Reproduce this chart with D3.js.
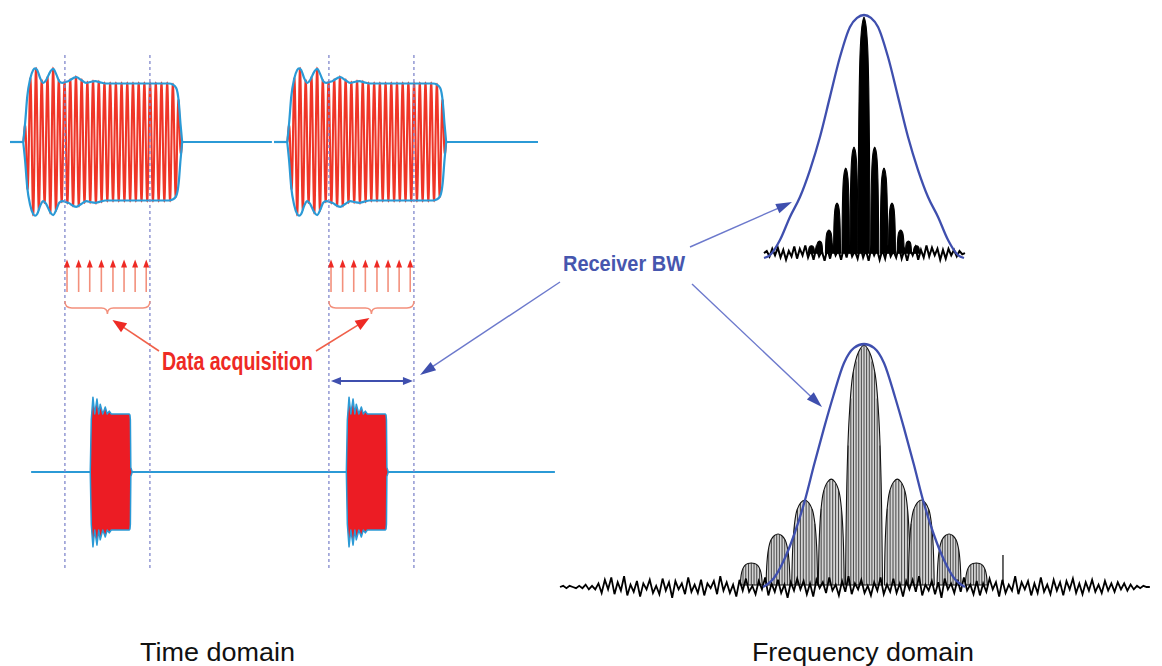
<!DOCTYPE html>
<html><head><meta charset="utf-8">
<script src="https://cdn.jsdelivr.net/npm/d3@7"></script>
<style>html,body{margin:0;padding:0;background:#fff;} svg{display:block}</style>
</head><body>
<script>
// ===================== DATA (arbitrary units) =====================
// Time domain: one unit = 1/50 of the pulse repetition period
const pulseStarts = [2.5, 52.5];                 // long RF pulses (top trace)
const burstStarts = [15.2, 63.7];                // short pulses (bottom trace)
const gateEdges   = [[10.4, 26.5], [60.4, 76.5]];// data acquisition windows
const topBaseline = [[0, 49.6], [50.0, 100]];
const botBaseline = [[4, 103.2]];
const carrierPeriod = 1.08;
// envelope of the long pulse (time since pulse start, relative amplitude)
const pulseEnvT = [0,0.38,0.76,1.33,1.89,2.27,2.65,3.22,3.79,4.36,5.11,5.68,6.25,6.82,7.39,8.52,10.04,10.98,11.93,12.88,13.64,14.58,15.53,27.6,28.4,29.0,29.45,29.8,30.11];
const pulseEnvA = [0,0.34,0.77,1.08,1.23,1.26,1.23,1.09,1.01,1.06,1.2,1.25,1.16,1.04,1.01,1.04,1.11,1.06,1.01,1.03,1.04,1.02,1.0,1.0,0.98,0.92,0.7,0.3,0];
// envelope of the short pulse
const burstEnvT = [0,0.19,0.51,0.85,1.27,1.61,1.89,2.37,2.84,3.22,3.6,3.98,7.4,7.52,7.6,7.64,7.68,7.95];
const burstEnvA = [0,0.9,1.29,1.0,1.26,1.0,1.17,1.0,1.12,1.0,1.05,1.0,1.0,0.98,0.9,0.5,0.08,0];
// sample instants (red arrows)
const samples1 = [10.8,13.0,15.1,17.3,19.5,21.6,23.7,25.8];
const samples2 = [60.8,63.0,65.1,67.3,69.5,71.6,73.7,75.8];

// Frequency domain: one unit = receiver half bandwidth
const topLobeF = [-0.52,-0.44,-0.347,-0.267,-0.181,-0.099,0,0.106,0.198,0.277,0.363,0.44,0.52];
const topLobeM = [0.05,0.07,0.115,0.226,0.370,0.457,0.992,0.457,0.370,0.226,0.115,0.07,0.05];
const topLobeW = [0.06,0.06,0.069,0.069,0.074,0.079,0.118,0.079,0.074,0.069,0.069,0.06,0.06];
const botLobeF = [-1.116,-0.851,-0.587,-0.324,0,0.330,0.567,0.842,1.112];
const botLobeM = [0.099,0.218,0.358,0.444,0.996,0.444,0.358,0.218,0.099];
const botLobeW = [0.218,0.238,0.257,0.257,0.366,0.257,0.257,0.238,0.218];
const lobeShapeU = [-0.5,-0.46,-0.4,-0.3,-0.15,0,0.15,0.3,0.4,0.46,0.5];
const lobeShapeV = [0,0.45,0.7,0.88,0.97,1,0.97,0.88,0.7,0.45,0];
// receiver filter (half profile, mirrored)
const rxTopF = [0,0.069,0.139,0.238,0.337,0.436,0.535,0.634,0.733,0.832,0.931,0.99];
const rxTopM = [1.0,0.988,0.951,0.827,0.663,0.498,0.362,0.251,0.169,0.074,0.012,0];
const rxBotF = [0,0.099,0.198,0.307,0.396,0.495,0.584,0.693,0.792,0.891,1.0];
const rxBotM = [1.0,0.984,0.922,0.782,0.654,0.502,0.358,0.214,0.111,0.037,0];
// noise floor
const topFloor = 0.02, botFloor = 0.0, botLobeFloor = 0.008;
const noiseTopSpan = [-0.99, 1.0];
const noiseTop = [0,2,-3,4,-2,5,-4,3,-6,2,-3,6,-5,4,-2,7,-4,3,-6,5,-3,2,-7,4,-5,6,-2,3,-6,5,-4,7,-3,2,-5,6,-4,3,-7,5,-2,4,-6,3,-5,7,-3,2,-4,6,-5,3,-7,4,-2,5,-6,3,-4,7,-3,5,-2,4,-6,3,-5,4,-2,3,-3,2,-1,0];
const noiseBotSpan = [-3.01, 2.83];
const noiseBottom = [0,1,-1,1,0,-1,1,-1,2,-2,1,-2,
3,-5,6,-2,8,-6,4,-3,9,-7,2,-4,5,-8,3,-2,6,-5,1,-6,7,-3,4,-9,5,-2,3,-6,8,-4,2,-5,6,-7,3,-1,5,-6,9,-3,4,-5,2,-8,6,-3,7,-4,1,-6,5,-2,8,-7,3,-4,6,-5,2,-9,4,-3,7,-2,5,-6,3,-8,6,-1,4,-5,8,-3,2,-7,5,-4,9,-6,3,-2,6,-5,1,-7,4,-3,8,-6,2,-4,7,-5,3,-8,5,-2,6,-4,9,-7,2,-3,5,-6,4,-9,7,-2,3,-5,6,-4,8,-3,2,-6,5,-7,3,-4,7,-2,4,-8,6,-5,2,-3,9,-6,4,-2,5,-7,3,-5,8,-4,2,-6,6,-3,4,-7,5,-2,7,-5,3,-6,4,-3,6,-4,2,-5,5,-3,3,-4,
4,-2,3,-3,2,-2,1,-1,1,0,0];
const spursF = [1.376];
const spursM = [0.132];
// texts
const labelTexts = ["Time domain", "Frequency domain"];
const annotTexts = ["Data acquisition", "Receiver BW"];

// ===================== SCALES =====================
const W = 1162, H = 666;
const xTime = d3.scaleLinear().domain([0,100]).range([10,538]);
const yPulse = d3.scaleLinear().domain([-1,1]).range([200.5,83.5]);
const yBurst = d3.scaleLinear().domain([-1,1]).range([530,414]);
const xFreq = d3.scaleLinear().domain([-1,1]).range([763,965]);
const yMagTop = d3.scaleLinear().domain([0,1]).range([258,15]);
const yMagBot = d3.scaleLinear().domain([0,1]).range([587,344]);

const C = {red:"#ee2a24", stripe:"#ef3527", blueEnv:"#2b9ad6", gate:"#8088cc",
  rx:"#3f4fae", rxLine:"#6c79cc", salmon:"#f3907c", black:"#111"};

const svg = d3.select("body").append("svg").attr("width",W).attr("height",H);
svg.append("rect").attr("width",W).attr("height",H).attr("fill","#fff");

function arrowHead(g, x1,y1,x2,y2, hl, hw, fill){
  const L=Math.hypot(x2-x1,y2-y1), ux=(x2-x1)/L, uy=(y2-y1)/L;
  const bx=x2-ux*hl, by=y2-uy*hl;
  g.append("polygon").attr("points",
    `${x2},${y2} ${bx-uy*hw/2},${by+ux*hw/2} ${bx+uy*hw/2},${by-ux*hw/2}`).attr("fill",fill);
}
function arrow(g, x1,y1,x2,y2, o){
  const L=Math.hypot(x2-x1,y2-y1), ux=(x2-x1)/L, uy=(y2-y1)/L;
  g.append("line").attr("x1",x1).attr("y1",y1).attr("x2",x2-ux*o.hl*0.8).attr("y2",y2-uy*o.hl*0.8)
    .attr("stroke",o.line).attr("stroke-width",o.lw);
  arrowHead(g,x1,y1,x2,y2,o.hl,o.hw,o.head);
}

// ===================== TIME DOMAIN: long pulses =====================
const gT = svg.append("g");
const envScale = d3.scaleLinear().domain(pulseEnvT).range(pulseEnvA).clamp(true);
const pulseLen = pulseEnvT[pulseEnvT.length-1];
pulseStarts.forEach(s=>{
  const pts=[];
  for(let t=0;t<=pulseLen;t+=0.01){
    pts.push([xTime(s+t), yPulse(envScale(t)*Math.sin(2*Math.PI*t/carrierPeriod))]);
  }
  gT.append("path").attr("d",d3.line()(pts)).attr("fill","none")
    .attr("stroke",C.stripe).attr("stroke-width",2.1);
});
// baseline only outside the pulses
topBaseline.forEach(([a,b])=>{
  let segs=[[a,b]];
  pulseStarts.forEach(s=>{
    const e=s+pulseLen;
    segs = segs.flatMap(([p,q])=>{
      if(e<=p||s>=q) return [[p,q]];
      const out=[]; if(s>p) out.push([p,s]); if(e<q) out.push([e,q]); return out;
    });
  });
  segs.forEach(([p,q])=>{
    gT.append("line").attr("x1",xTime(p)).attr("x2",xTime(q)).attr("y1",yPulse(0)).attr("y2",yPulse(0))
      .attr("stroke",C.blueEnv).attr("stroke-width",2.2);
  });
});
const envLine = d3.line().curve(d3.curveMonotoneX);
pulseStarts.forEach(s=>{
  [1,-1].forEach(sg=>{
    gT.append("path").attr("d",envLine(pulseEnvT.map((t,i)=>[xTime(s+t), yPulse(sg*pulseEnvA[i])])))
      .attr("fill","none").attr("stroke",C.blueEnv).attr("stroke-width",2.2);
  });
});

// ===================== TIME DOMAIN: short pulses =====================
botBaseline.forEach(([a,b])=>{
  gT.append("line").attr("x1",xTime(a)).attr("x2",xTime(b)).attr("y1",yBurst(0)).attr("y2",yBurst(0))
    .attr("stroke",C.blueEnv).attr("stroke-width",2.2);
});
burstStarts.forEach(s=>{
  const area = d3.area().x(d=>xTime(s+d[0])).y0(d=>yBurst(-d[1])).y1(d=>yBurst(d[1]));
  const dat = burstEnvT.map((t,i)=>[t,burstEnvA[i]]);
  gT.append("path").attr("d",area(dat)).attr("fill","#ec1c24");
  [1,-1].forEach(sg=>{
    gT.append("path").attr("d",d3.line()(burstEnvT.map((t,i)=>[xTime(s+t), yBurst(sg*burstEnvA[i])])))
      .attr("fill","none").attr("stroke",C.blueEnv).attr("stroke-width",1.5).attr("stroke-linejoin","round");
  });
});

// ===================== gates =====================
gateEdges.flat().forEach(t=>{
  gT.append("line").attr("x1",xTime(t)).attr("x2",xTime(t)).attr("y1",55).attr("y2",570)
    .attr("stroke",C.gate).attr("stroke-width",1.3).attr("stroke-dasharray","3,3");
});

// sample arrows
[samples1, samples2].forEach(arr=>{
  arr.forEach(t=>{
    const x=xTime(t);
    gT.append("line").attr("x1",x).attr("x2",x).attr("y1",292).attr("y2",266)
      .attr("stroke",C.salmon).attr("stroke-width",1.6);
    arrowHead(gT,x,292,x,259.5,8,6,C.red);
  });
});
// braces
gateEdges.forEach(([a,b])=>{
  const x0=xTime(a), x1=xTime(b), xm=(x0+x1)/2;
  gT.append("path").attr("d",
    `M${x0},301 Q${x0},308 ${x0+7},308 L${xm-6},308 Q${xm},308 ${xm},314 Q${xm},308 ${xm+6},308 L${x1-7},308 Q${x1},308 ${x1},301`)
    .attr("fill","none").attr("stroke",C.salmon).attr("stroke-width",1.5);
});
// Data acquisition text + arrows
const daX = (xTime(gateEdges[0][1]) + xTime(gateEdges[1][0]))/2 - 2;
gT.append("text").attr("x",daX).attr("y",370).attr("text-anchor","middle")
  .attr("font-family","'Liberation Sans Narrow','Arial Narrow',sans-serif").attr("font-weight","bold")
  .attr("font-size",25).attr("fill",C.red).attr("textLength",151).attr("lengthAdjust","spacingAndGlyphs")
  .text(annotTexts[0]);
const braceTip1 = (xTime(gateEdges[0][0])+xTime(gateEdges[0][1]))/2;
const braceTip2 = (xTime(gateEdges[1][0])+xTime(gateEdges[1][1]))/2;
arrow(gT,159,351,braceTip1+5,320,{hl:14,hw:11,line:"#f0604a",lw:1.6,head:C.red});
arrow(gT,316,351,braceTip2-2,318,{hl:14,hw:11,line:"#f0604a",lw:1.6,head:C.red});

// double arrow (receiver BW in time domain)
{
  const xa=xTime(gateEdges[1][0])+2, xb=xTime(gateEdges[1][1])-1, y=381;
  gT.append("line").attr("x1",xa+6).attr("x2",xb-6).attr("y1",y).attr("y2",y)
    .attr("stroke",C.rx).attr("stroke-width",2);
  arrowHead(gT,xb-20,y,xb,y,10,8,C.rx);
  arrowHead(gT,xa+20,y,xa,y,10,8,C.rx);
}

// ===================== FREQUENCY DOMAIN =====================
const gF = svg.append("g");
const lobeLine = d3.line().curve(d3.curveCatmullRom.alpha(0.5));
const shapeScale = d3.scaleLinear().domain(lobeShapeU).range(lobeShapeV).clamp(true);
function drawLobes(F,M,Wd,yS,floor,fill,stroke,hatch){
  F.forEach((f,i)=>{
    const pts = lobeShapeU.map((u,j)=>[xFreq(f+u*Wd[i]), yS(floor+(M[i]-floor)*lobeShapeV[j])]);
    gF.append("path").attr("d",lobeLine(pts)+"Z").attr("fill",fill).attr("stroke",stroke).attr("stroke-width",1.1);
    if(hatch){
      const px = xFreq(f+Wd[i]/2)-xFreq(f-Wd[i]/2);
      const n = Math.floor(px/2.6);
      for(let k=1;k<n;k++){
        const u=-0.5+k/n;
        const x=xFreq(f+u*Wd[i]);
        gF.append("line").attr("x1",x).attr("x2",x)
          .attr("y1",yS(floor)).attr("y2",yS(floor+(M[i]-floor)*shapeScale(u)))
          .attr("stroke","#222").attr("stroke-width",0.8);
      }
    }
  });
}
// top spectrum
drawLobes(topLobeF,topLobeM,topLobeW,yMagTop,topFloor,"#000","#000",false);
{
  const ix=d3.scaleLinear().domain([0,noiseTop.length-1]).range(noiseTopSpan);
  const yN=d3.scaleLinear().domain([-10,10]).range([yMagTop(topFloor)+11,yMagTop(topFloor)-11]);
  gF.append("path").attr("d",d3.line()(noiseTop.map((v,i)=>[xFreq(ix(i)),yN(v)])))
    .attr("fill","none").attr("stroke","#000").attr("stroke-width",2);
}
// bottom spectrum
drawLobes(botLobeF,botLobeM,botLobeW,yMagBot,botLobeFloor,"#d4d4d4","#111",true);
{
  const ix=d3.scaleLinear().domain([0,noiseBottom.length-1]).range(noiseBotSpan);
  const yN=d3.scaleLinear().domain([-10,10]).range([yMagBot(botFloor)+12,yMagBot(botFloor)-12]);
  gF.append("path").attr("d",d3.line()(noiseBottom.map((v,i)=>[xFreq(ix(i)),yN(v)])))
    .attr("fill","none").attr("stroke","#000").attr("stroke-width",1.8);
  spursF.forEach((f,i)=>{
    gF.append("line").attr("x1",xFreq(f)).attr("x2",xFreq(f)).attr("y1",yMagBot(botFloor)-3).attr("y2",yMagBot(spursM[i]))
      .attr("stroke","#000").attr("stroke-width",1.2);
  });
}
// receiver filter curves
function rxCurve(Fh,Mh,yS){
  const pts = Fh.slice().reverse().map((f,i)=>[xFreq(-f), yS(Mh[Fh.length-1-i])])
    .concat(Fh.slice(1).map((f,i)=>[xFreq(f), yS(Mh[i+1])]));
  gF.append("path").attr("d",d3.line().curve(d3.curveMonotoneX)(pts))
    .attr("fill","none").attr("stroke",C.rx).attr("stroke-width",2.3);
}
rxCurve(rxTopF,rxTopM,yMagTop);
rxCurve(rxBotF,rxBotM,yMagBot);

// Receiver BW text + arrows
gF.append("text").attr("x",563).attr("y",271)
  .attr("font-family","'Liberation Sans Narrow','Arial Narrow',sans-serif").attr("font-weight","bold")
  .attr("font-size",22).attr("fill","#4656ae").attr("textLength",122).attr("lengthAdjust","spacingAndGlyphs")
  .text(annotTexts[1]);
const rxArrow = {hl:16,hw:10,line:C.rxLine,lw:1.4,head:C.rx};
arrow(gF,690,247,xFreq(-0.713),yMagTop(0.23),rxArrow);
arrow(gF,692,284,xFreq(-0.416),yMagBot(0.741),rxArrow);
arrow(gF,560,282,xTime(77.65),375,rxArrow);

// bottom labels
svg.append("text").attr("x",140).attr("y",661).attr("font-family","'Liberation Sans',Arial,sans-serif")
  .attr("font-size",25).attr("fill","#111").attr("textLength",155).attr("lengthAdjust","spacingAndGlyphs")
  .text(labelTexts[0]);
svg.append("text").attr("x",752).attr("y",661).attr("font-family","'Liberation Sans',Arial,sans-serif")
  .attr("font-size",25).attr("fill","#111").attr("textLength",222).attr("lengthAdjust","spacingAndGlyphs")
  .text(labelTexts[1]);
</script>
</body></html>
